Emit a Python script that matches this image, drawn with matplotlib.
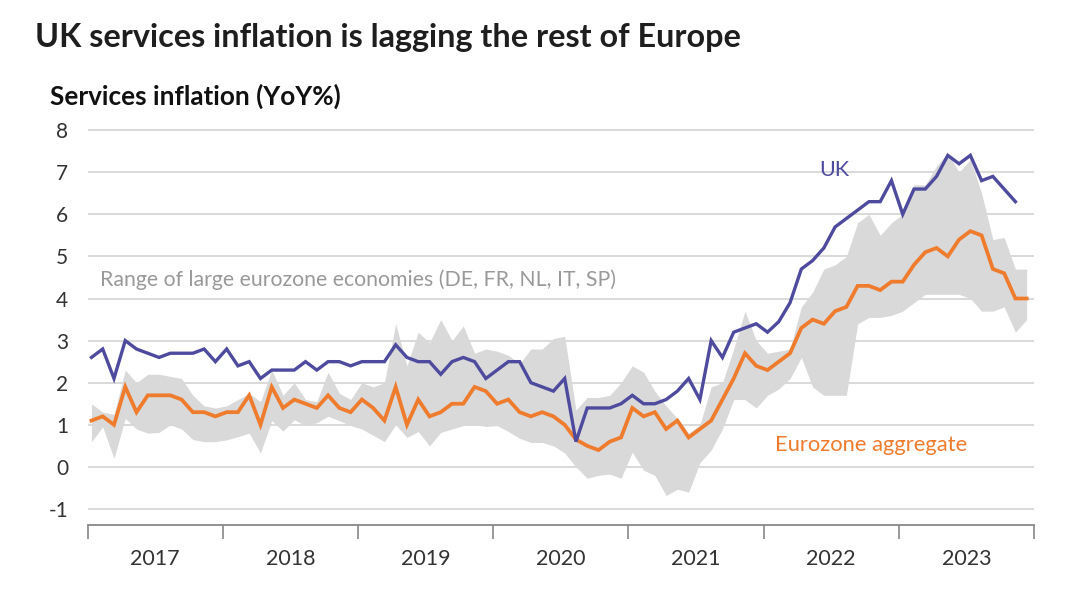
import numpy as np
import matplotlib
matplotlib.use("Agg")
import matplotlib.pyplot as plt

# ---------------- data (monthly, Jan 2017 onwards) ----------------
uk = [2.6, 2.8, 2.1, 3.0, 2.8, 2.7, 2.6, 2.7, 2.7, 2.7, 2.8, 2.5,
      2.8, 2.4, 2.5, 2.1, 2.3, 2.3, 2.3, 2.5, 2.3, 2.5, 2.5, 2.4,
      2.5, 2.5, 2.5, 2.9, 2.6, 2.5, 2.5, 2.2, 2.5, 2.6, 2.5, 2.1,
      2.3, 2.5, 2.5, 2.0, 1.9, 1.8, 2.1, 0.6, 1.4, 1.4, 1.4, 1.5,
      1.7, 1.5, 1.5, 1.6, 1.8, 2.1, 1.6, 3.0, 2.6, 3.2, 3.3, 3.4,
      3.2, 3.45, 3.9, 4.7, 4.9, 5.2, 5.7, 5.9, 6.1, 6.3, 6.3, 6.8,
      6.0, 6.6, 6.6, 6.9, 7.4, 7.2, 7.4, 6.8, 6.9, 6.6, 6.3]

ez = [1.1, 1.2, 1.0, 1.9, 1.3, 1.7, 1.7, 1.7, 1.6, 1.3, 1.3, 1.2,
      1.3, 1.3, 1.7, 1.0, 1.9, 1.4, 1.6, 1.5, 1.4, 1.7, 1.4, 1.3,
      1.6, 1.4, 1.1, 1.9, 1.0, 1.6, 1.2, 1.3, 1.5, 1.5, 1.9, 1.8,
      1.5, 1.6, 1.3, 1.2, 1.3, 1.2, 1.0, 0.65, 0.5, 0.4, 0.6, 0.7,
      1.4, 1.2, 1.3, 0.9, 1.1, 0.7, 0.9, 1.1, 1.6, 2.1, 2.7, 2.4,
      2.3, 2.5, 2.7, 3.3, 3.5, 3.4, 3.7, 3.8, 4.3, 4.3, 4.2, 4.4,
      4.4, 4.8, 5.1, 5.2, 5.0, 5.4, 5.6, 5.5, 4.7, 4.6, 4.0, 4.0]

range_hi = [1.5, 1.3, 1.25, 2.3, 2.0, 2.2, 2.2, 2.15, 2.1, 1.7, 1.45, 1.4,
            1.45, 1.6, 1.75, 1.55, 2.3, 1.7, 2.0, 1.6, 1.55, 2.25, 1.75, 1.6,
            2.0, 1.9, 2.0, 3.4, 2.4, 3.2, 2.95, 3.5, 3.0, 3.35, 2.7, 2.8,
            2.75, 2.65, 2.45, 2.8, 2.8, 3.05, 3.1, 1.35, 1.65, 1.65, 1.7, 2.0,
            2.4, 2.25, 1.8, 1.45, 1.15, 0.8, 1.0, 1.9, 2.0, 2.8, 3.7, 3.0,
            2.7, 2.75, 2.8, 3.8, 4.15, 4.7, 4.8, 5.0, 5.8, 6.0, 5.5, 5.8,
            6.0, 6.7, 6.7, 7.15, 7.45, 7.0, 7.3, 6.5, 5.4, 5.45, 4.7, 4.7]

range_lo = [0.6, 0.95, 0.2, 1.15, 0.9, 0.8, 0.82, 1.0, 0.9, 0.65, 0.6, 0.6,
            0.64, 0.72, 0.8, 0.33, 1.1, 0.85, 1.12, 0.98, 1.05, 1.2, 1.1, 0.98,
            0.9, 0.75, 0.6, 1.0, 0.7, 0.84, 0.5, 0.82, 0.9, 0.98, 1.0, 0.96,
            0.98, 0.84, 0.68, 0.58, 0.58, 0.5, 0.33, 0.0, -0.27, -0.2, -0.17, -0.27,
            0.35, -0.08, -0.2, -0.68, -0.53, -0.6, 0.1, 0.4, 0.9, 1.6, 1.6, 1.4,
            1.7, 1.85, 2.1, 2.6, 1.9, 1.7, 1.7, 1.7, 3.4, 3.55, 3.55, 3.6,
            3.7, 3.9, 4.1, 4.1, 4.1, 4.1, 4.0, 3.7, 3.7, 3.8, 3.2, 3.5]

years = ["2017", "2018", "2019", "2020", "2021", "2022", "2023"]
yticks = [-1, 0, 1, 2, 3, 4, 5, 6, 7, 8]

# ---------------- styling ----------------
C_UK = "#4e4b9e"
C_EZ = "#ef7b2d"
C_BAND = "#d9d9d9"
C_GRID = "#d9d9d9"
C_TXT = "#333333"
FONT = ["Lato", "DejaVu Sans"]
plt.rcParams["font.family"] = FONT

fig = plt.figure(figsize=(10.8, 5.99), dpi=100)
ax = fig.add_axes([87.5 / 1080, 74 / 599, (1034 - 87.5) / 1080, (471 - 74) / 599])

off = 0.35
x_ez = np.arange(len(ez)) + off
x_uk = np.arange(len(uk)) + off
x_band = np.arange(len(range_hi)) + off

ax.fill_between(x_band, range_lo, range_hi, color=C_BAND, lw=0, zorder=2)
ax.plot(x_ez, ez, color=C_EZ, lw=2.7, zorder=4, solid_joinstyle="miter")
ax.plot(x_uk, uk, color=C_UK, lw=2.4, zorder=5, solid_joinstyle="miter")

ax.set_xlim(0, 12 * len(years))
ax.set_ylim(-1.38, 8.05)

ax.set_yticks(yticks)
ax.set_yticklabels([str(v) for v in yticks])
ax.yaxis.grid(True, color=C_GRID, lw=1.4, zorder=0)
ax.set_axisbelow(True)

ax.set_xticks(np.arange(0, 12 * len(years) + 1, 12))
ax.set_xticklabels([])
ax.set_xticks(np.arange(6, 12 * len(years), 12), minor=True)
ax.set_xticklabels(years, minor=True)

ax.tick_params(axis="x", which="major", length=10, width=1.2, color="#888888", direction="out")
ax.tick_params(axis="x", which="minor", length=0, pad=17, labelsize=15.5, labelcolor=C_TXT)
ax.tick_params(axis="y", length=0, pad=14, labelsize=15, labelcolor=C_TXT)

for s in ["top", "right", "left"]:
    ax.spines[s].set_visible(False)
ax.spines["bottom"].set_color("#888888")
ax.spines["bottom"].set_linewidth(1.3)

# annotations
ax.text(66.3, 7.05, "UK", color=C_UK, fontsize=15.5, ha="center", va="center", zorder=6)
ax.text(1.1, 4.44, "Range of large eurozone economies (DE, FR, NL, IT, SP)",
        color="#999999", fontsize=15.3, ha="left", va="center", zorder=6)
ax.text(61.0, 0.52, "Eurozone aggregate", color=C_EZ, fontsize=15.8,
        ha="left", va="center", zorder=6)

fig.text(35 / 1080, 1 - 47 / 599, "UK services inflation is lagging the rest of Europe",
         fontsize=23.3, fontweight="bold", color="#1e1e1e", ha="left", va="baseline")
fig.text(50 / 1080, 1 - 105 / 599, "Services inflation (YoY%)",
         fontsize=18.8, fontweight="bold", color="#111111", ha="left", va="baseline")

fig.savefig("out.png", dpi=100, facecolor="white")
